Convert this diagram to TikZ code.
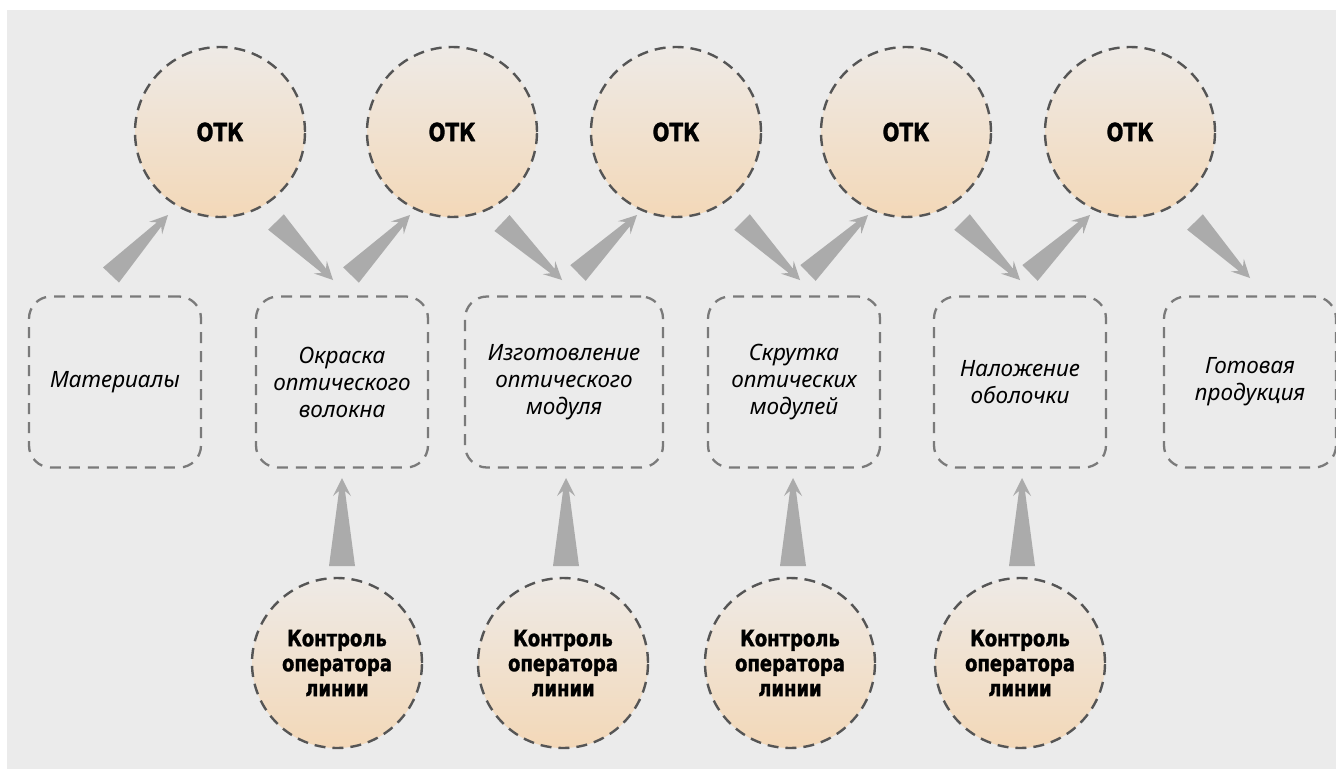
\documentclass[tikz,border=0pt]{standalone}
\usepackage{fontspec}
\setmainfont{Liberation Sans}
\newfontfamily\otkfont[FakeStretch=0.8, BoldFeatures={FakeBold=1.3}]{DejaVu Sans}
\newfontfamily\boxfont{Noto Sans}
\usetikzlibrary{calc}
\definecolor{bgc}{HTML}{EBEBEB}
\definecolor{peach}{HTML}{F3D8B8}
\definecolor{peachtop}{HTML}{EEEAE6}
\definecolor{edgec}{HTML}{555555}
\definecolor{boxedge}{HTML}{7A7A7A}
\definecolor{arrc}{HTML}{ABABAB}
\tikzset{
  otk/.style={circle, minimum size=170pt, inner sep=0pt, draw=edgec, line width=2.4pt,
    dash pattern=on 11pt off 7pt, top color=peachtop, bottom color=peach,
    font=\otkfont\bfseries\fontsize{25}{25}\selectfont, align=center},
  ctl/.style={otk, font=\otkfont\bfseries\fontsize{22.5}{25}\selectfont},
  stage/.style={rectangle, rounded corners=22pt, minimum width=172pt, minimum height=171pt,
    draw=boxedge, line width=2.3pt, dash pattern=on 11pt off 8pt, inner sep=0pt,
    font=\boxfont\itshape\fontsize{22.5}{27}\selectfont, align=center},
  taperfill/.style={fill=arrc, draw=none}
}
% tapered arrow: #1 base, #2 tip, #3 half width of base
\newcommand\taper[3]{%
  \coordinate (tpN) at ($(#2)!13pt!(#1)$);
  \coordinate (tpH) at ($(#2)!18pt!(#1)$);
  \fill[taperfill] ($(#1)!#3!90:(#2)$) -- ($(tpN)!3pt!90:(#2)$) -- ($(tpH)!9pt!90:(#2)$)
    -- (#2) -- ($(tpH)!9pt!-90:(#2)$) -- ($(tpN)!3pt!-90:(#2)$) -- ($(#1)!#3!-90:(#2)$) -- cycle;}
\begin{document}
\begin{tikzpicture}[x=1pt,y=-1pt]
\useasboundingbox (0,0) rectangle (1336,769);
\fill[white] (0,0) rectangle (1336,769);
\fill[bgc] (7,10) rectangle (1336,769);

% OTK circles
\node[otk] (otk1) at (220,132) {ОТК};
\node[otk] (otk2) at (452,132) {ОТК};
\node[otk] (otk3) at (676,132) {ОТК};
\node[otk] (otk4) at (906,132) {ОТК};
\node[otk] (otk5) at (1130,132) {ОТК};

% stage boxes
\node[stage] (b1) at (115,382) {Материалы};
\node[stage] (b2) at (342,382) {Окраска\\оптического\\волокна};
\node[stage, minimum width=198pt] (b3) at (564,382) {Изготовление\\оптического\\модуля};
\node[stage] (b4) at (794,382) {Скрутка\\оптических\\модулей};
\node[stage] (b5) at (1020,382) {Наложение\\оболочки};
\node[stage] (b6) at (1250,382) {Готовая\\продукция};

% operator control circles
\node[ctl] (c2) at (337,663) {Контроль\\оператора\\линии};
\node[ctl] (c3) at (563,663) {Контроль\\оператора\\линии};
\node[ctl] (c4) at (790,663) {Контроль\\оператора\\линии};
\node[ctl] (c5) at (1020,663) {Контроль\\оператора\\линии};

% arrow end points
\coordinate (u1s) at (111,275);  \coordinate (u1e) at (168,215);
\coordinate (u2s) at (351,275);  \coordinate (u2e) at (410,215);
\coordinate (u3s) at (578,273);  \coordinate (u3e) at (637,215);
\coordinate (u4s) at (808,273);  \coordinate (u4e) at (868,215);
\coordinate (u5s) at (1030,273); \coordinate (u5e) at (1090,215);
\coordinate (d1s) at (276,222);  \coordinate (d1e) at (333,280);
\coordinate (d2s) at (502,223);  \coordinate (d2e) at (562,280);
\coordinate (d3s) at (742,222);  \coordinate (d3e) at (800,280);
\coordinate (d4s) at (962,222);  \coordinate (d4e) at (1020,280);
\coordinate (d5s) at (1195,222); \coordinate (d5e) at (1250,278);
\coordinate (v2s) at (342,566);  \coordinate (v2e) at (342,478);
\coordinate (v3s) at (566,566);  \coordinate (v3e) at (566,478);
\coordinate (v4s) at (793,566);  \coordinate (v4e) at (793,478);
\coordinate (v5s) at (1022,566); \coordinate (v5e) at (1022,478);

\taper{u1s}{u1e}{11pt}
\taper{u2s}{u2e}{11pt}
\taper{u3s}{u3e}{11pt}
\taper{u4s}{u4e}{11pt}
\taper{u5s}{u5e}{11pt}
\taper{d1s}{d1e}{11pt}
\taper{d2s}{d2e}{11pt}
\taper{d3s}{d3e}{11pt}
\taper{d4s}{d4e}{11pt}
\taper{d5s}{d5e}{11pt}
\taper{v2s}{v2e}{13pt}
\taper{v3s}{v3e}{13pt}
\taper{v4s}{v4e}{13pt}
\taper{v5s}{v5e}{13pt}
\end{tikzpicture}
\end{document}
